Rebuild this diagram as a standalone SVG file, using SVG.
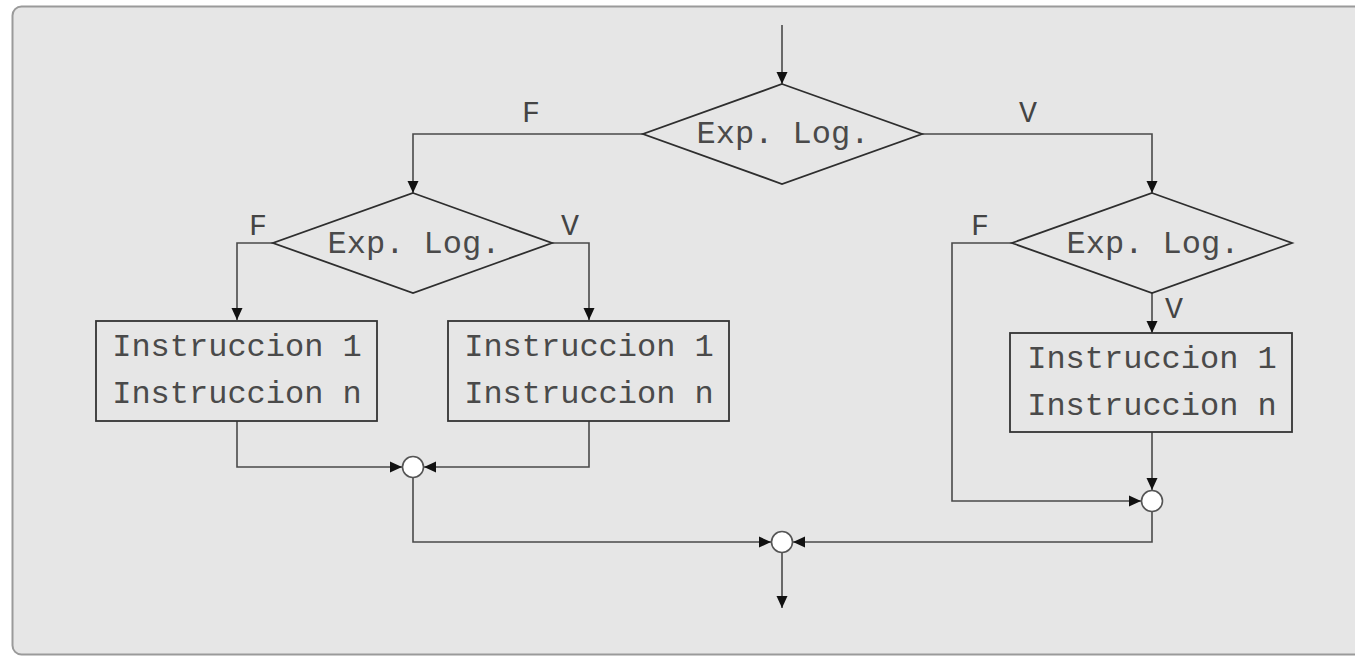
<svg xmlns="http://www.w3.org/2000/svg" width="1355" height="656" viewBox="0 0 1355 656">
  <style>
    .panel { fill: #e6e6e6; stroke: #9a9a9a; stroke-width: 2; }
    .shape { fill: none; stroke: #2e2e2e; stroke-width: 1.8; }
    .box { fill: none; stroke: #333; stroke-width: 1.8; }
    .join { fill: #ffffff; stroke: #555; stroke-width: 1.6; }
    .wire { fill: none; stroke: #4a4a4a; stroke-width: 1.6; }
    .arrow { marker-end: url(#head); }
    .txt { font-family: "Liberation Mono", "DejaVu Sans Mono", monospace; font-size: 32px; fill: #4a4a4a; text-anchor: middle; }
    .lbl { font-family: "Liberation Mono", "DejaVu Sans Mono", monospace; font-size: 30px; fill: #444; text-anchor: middle; }
  </style>
  <defs>
    <marker id="head" markerUnits="userSpaceOnUse" markerWidth="12" markerHeight="12" refX="12" refY="6" orient="auto">
      <path d="M0,0.5 L12,6 L0,11.5 z" fill="#111"/>
    </marker>
  </defs>

  <!-- background panel -->
  <rect class="panel" x="12.5" y="6.5" width="1370" height="648" rx="9"/>

  <!-- connectors -->
  <g id="connectors">
    <path class="wire arrow" d="M782,25 L782,84"/>
    <path class="wire arrow" d="M643,134 L413,134 L413,193"/>
    <path class="wire arrow" d="M922,134 L1152,134 L1152,193"/>
    <path class="wire arrow" d="M273,243 L237,243 L237,320"/>
    <path class="wire arrow" d="M552,243 L589,243 L589,320"/>
    <path class="wire arrow" d="M1012,243 L952,243 L952,501 L1141,501"/>
    <path class="wire arrow" d="M1152,293 L1152,333"/>
    <path class="wire arrow" d="M237,421 L237,467 L402,467"/>
    <path class="wire arrow" d="M589,421 L589,467 L424,467"/>
    <path class="wire arrow" d="M1152,432 L1152,490"/>
    <path class="wire arrow" d="M413,478 L413,542 L771,542"/>
    <path class="wire arrow" d="M1152,512 L1152,542 L793,542"/>
    <path class="wire arrow" d="M782,553 L782,608"/>
    <text class="lbl" x="531" y="122">F</text>
    <text class="lbl" x="1028" y="122">V</text>
    <text class="lbl" x="258" y="235">F</text>
    <text class="lbl" x="570" y="235">V</text>
    <text class="lbl" x="980" y="235">F</text>
    <text class="lbl" x="1174" y="318">V</text>
  </g>

  <!-- decisions -->
  <g id="decision-main">
    <polygon class="shape" points="782,84 922,134 782,184 643,134"/>
    <text class="txt" x="783" y="143">Exp. Log.</text>
  </g>
  <g id="decision-left">
    <polygon class="shape" points="413,193 552,243 413,293 273,243"/>
    <text class="txt" x="414" y="253">Exp. Log.</text>
  </g>
  <g id="decision-right">
    <polygon class="shape" points="1152,193 1292,243 1152,293 1012,243"/>
    <text class="txt" x="1153" y="253">Exp. Log.</text>
  </g>

  <!-- instruction blocks -->
  <g id="block-left-f">
    <rect class="box" x="96" y="321" width="281" height="100"/>
    <text class="txt" x="237" y="356">Instruccion 1</text>
    <text class="txt" x="237" y="403">Instruccion n</text>
  </g>
  <g id="block-left-v">
    <rect class="box" x="448" y="321" width="281" height="100"/>
    <text class="txt" x="589" y="356">Instruccion 1</text>
    <text class="txt" x="589" y="403">Instruccion n</text>
  </g>
  <g id="block-right-v">
    <rect class="box" x="1010" y="333" width="282" height="99"/>
    <text class="txt" x="1152" y="368">Instruccion 1</text>
    <text class="txt" x="1152" y="415">Instruccion n</text>
  </g>

  <!-- merge points -->
  <g id="join-left"><circle class="join" cx="413" cy="467" r="10.5"/></g>
  <g id="join-right"><circle class="join" cx="1152" cy="501" r="10.5"/></g>
  <g id="join-main"><circle class="join" cx="782" cy="542" r="10.5"/></g>
</svg>
